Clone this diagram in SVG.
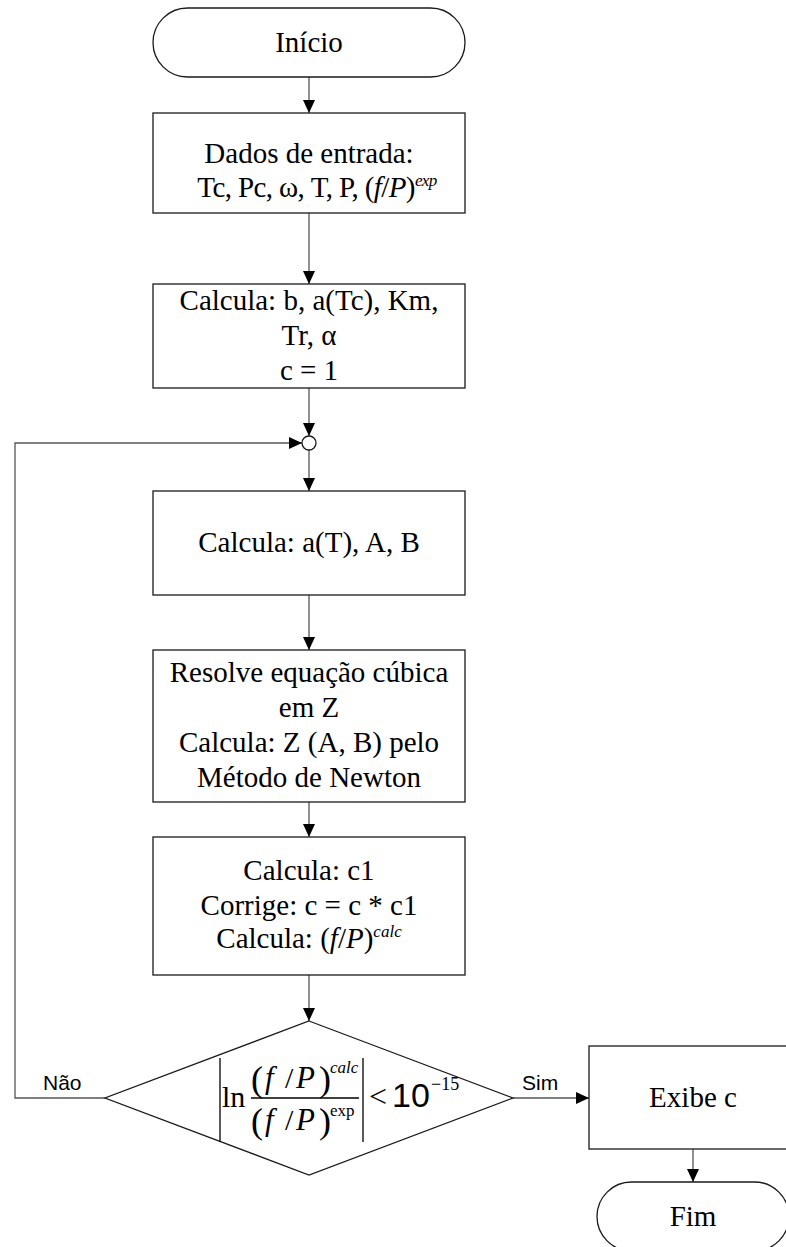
<svg xmlns="http://www.w3.org/2000/svg" width="786" height="1247" viewBox="0 0 786 1247">
<style>
.shape{fill:#fff;stroke:#1a1a1a;stroke-width:1.3}
.conn{fill:none;stroke:#555;stroke-width:1.3}
.t{font-family:"Liberation Serif","Times New Roman",serif;font-size:29px;fill:#000;text-anchor:middle}
.lbl{font-family:"Liberation Sans",Arial,sans-serif;font-size:21px;fill:#000}
.f{font-family:"Liberation Serif","Times New Roman",serif;fill:#000}
.i{font-style:italic}
</style>
<defs>
<marker id="ah" markerUnits="userSpaceOnUse" markerWidth="13" markerHeight="12" refX="13" refY="6" orient="auto">
<path d="M0,0 L13,6 L0,12 z" fill="#000"/>
</marker>
</defs>
<rect width="786" height="1247" fill="#fff"/>
<g id="connectors">
<line class="conn" x1="309" y1="77" x2="309" y2="113" marker-end="url(#ah)"/>
<line class="conn" x1="309" y1="213" x2="309" y2="284" marker-end="url(#ah)"/>
<line class="conn" x1="309" y1="388" x2="309" y2="436" marker-end="url(#ah)"/>
<line class="conn" x1="309" y1="450" x2="309" y2="491" marker-end="url(#ah)"/>
<line class="conn" x1="309" y1="595" x2="309" y2="650" marker-end="url(#ah)"/>
<line class="conn" x1="309" y1="802" x2="309" y2="837" marker-end="url(#ah)"/>
<line class="conn" x1="309" y1="975" x2="309" y2="1021" marker-end="url(#ah)"/>
<polyline class="conn" points="105,1098 15,1098 15,443 302,443" marker-end="url(#ah)"/>
<line class="conn" x1="513" y1="1098" x2="589" y2="1098" marker-end="url(#ah)"/>
<line class="conn" x1="693" y1="1149" x2="693" y2="1182" marker-end="url(#ah)"/>
<text class="lbl" x="43" y="1090">Não</text>
<text class="lbl" x="522" y="1090">Sim</text>
</g>
<g id="inicio">
<rect class="shape" x="153" y="8" width="312" height="69" rx="34.5" ry="34.5"/>
<text class="t" x="309" y="52">Início</text>
</g>
<g id="dados">
<rect class="shape" x="153" y="113" width="312" height="100"/>
<text class="t" x="309" y="163">Dados de entrada:</text>
<text class="t" x="317" y="197" letter-spacing="-0.6">Tc, Pc, ω, T, P, (<tspan class="i">f</tspan>/<tspan class="i">P</tspan>)<tspan class="i" font-size="17" dy="-11">exp</tspan></text>
</g>
<g id="calcula1">
<rect class="shape" x="153" y="284" width="312" height="104"/>
<text class="t" x="309" y="310">Calcula: b, a(Tc), Km,</text>
<text class="t" x="309" y="345">Tr, α</text>
<text class="t" x="309" y="380">c = 1</text>
</g>
<g id="juncao">
<circle class="shape" cx="309" cy="443" r="7"/>
</g>
<g id="calcula2">
<rect class="shape" x="153" y="491" width="312" height="104"/>
<text class="t" x="309" y="552">Calcula: a(T), A, B</text>
</g>
<g id="resolve">
<rect class="shape" x="153" y="650" width="312" height="152"/>
<text class="t" x="309" y="682">Resolve equação cúbica</text>
<text class="t" x="309" y="717">em Z</text>
<text class="t" x="309" y="752">Calcula: Z (A, B) pelo</text>
<text class="t" x="309" y="787">Método de Newton</text>
</g>
<g id="corrige">
<rect class="shape" x="153" y="837" width="312" height="138"/>
<text class="t" x="309" y="880">Calcula: c1</text>
<text class="t" x="309" y="915">Corrige: c = c * c1</text>
<text class="t" x="309" y="948">Calcula: (<tspan class="i">f</tspan>/<tspan class="i">P</tspan>)<tspan class="i" font-size="17" dy="-11">calc</tspan></text>
</g>
<g id="decisao">
<polygon class="shape" points="309,1021 513,1098 309,1175 105,1098"/>
<line x1="220" y1="1058" x2="220" y2="1142" stroke="#000" stroke-width="1.3"/>
<line x1="363" y1="1058" x2="363" y2="1142" stroke="#000" stroke-width="1.3"/>
<line x1="251" y1="1098" x2="359" y2="1098" stroke="#000" stroke-width="1.3"/>
<text class="f" font-size="30" x="222" y="1107">ln</text>
<text class="f" font-size="36" x="251" y="1091">(</text>
<text class="f i" font-size="31" x="265" y="1088">f</text>
<text class="f" font-size="30" x="285" y="1088">/</text>
<text class="f i" font-size="31" x="296" y="1088">P</text>
<text class="f" font-size="36" x="319" y="1091">)</text>
<text class="f i" font-size="17" x="330" y="1073">calc</text>
<text class="f" font-size="36" x="251" y="1133">(</text>
<text class="f i" font-size="31" x="265" y="1130">f</text>
<text class="f" font-size="30" x="285" y="1130">/</text>
<text class="f i" font-size="31" x="296" y="1130">P</text>
<text class="f" font-size="36" x="319" y="1133">)</text>
<text class="f" font-size="17" x="330" y="1116">exp</text>
<text class="f" font-size="32" x="369" y="1107">&lt;</text>
<text font-family="Liberation Sans, Arial, sans-serif" font-size="34" x="392" y="1107">10</text>
<text class="f" font-size="18" x="431" y="1090">−15</text>
</g>
<g id="exibe">
<rect class="shape" x="589" y="1046" width="210" height="103"/>
<text class="t" x="693" y="1107">Exibe c</text>
</g>
<g id="fim">
<rect class="shape" x="597" y="1182" width="192" height="69" rx="34.5" ry="34.5"/>
<text class="t" x="693" y="1226">Fim</text>
</g>
</svg>
